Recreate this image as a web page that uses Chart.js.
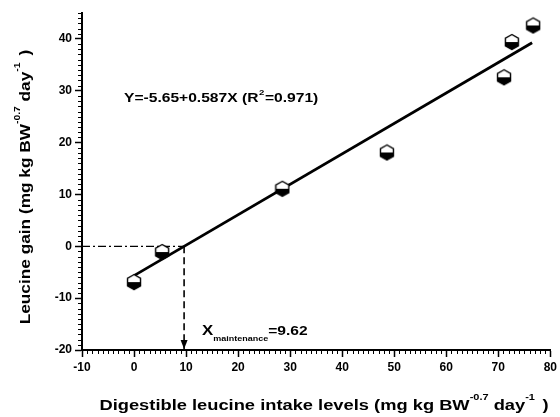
<!DOCTYPE html>
<html>
<head>
<meta charset="utf-8">
<script src="https://cdn.jsdelivr.net/npm/chart.js@4.4.0/dist/chart.umd.min.js"></script>
<style>
html,body{margin:0;padding:0;background:#fff;}
#wrap{width:560px;height:417px;position:relative;}
</style>
</head>
<body>
<div id="wrap"><canvas id="c" width="560" height="417"></canvas></div>
<script>
// ---- data ----
const intakeX = [0, 5.4, 28.5, 48.6, 71.1, 72.6, 76.7];
const gainY = [-6.9, -1.1, 11.1, 18.1, 32.6, 39.4, 42.6];
const fitX = [0, 76.5];
const fitY = [-5.65, 39.26];
const xMaintenance = 9.62;
const xTicks = [-10, 0, 10, 20, 30, 40, 50, 60, 70, 80];
const yTicks = [-20, -10, 0, 10, 20, 30, 40];
const equationText = 'Y=-5.65+0.587X (R';
const xRange = [-10, 80];
const yRange = [-20, 45];

// hexagon marker
function makeMarker() {
  const w = 16, h = 18;
  const cv = document.createElement('canvas');
  cv.width = w; cv.height = h;
  const g = cv.getContext('2d');
  const cx = w / 2, cy = h / 2, r = 7.5;
  const pts = [];
  for (let i = 0; i < 6; i++) {
    const a = Math.PI / 180 * (90 + 60 * i);
    pts.push([cx + r * Math.cos(a), cy - r * Math.sin(a)]);
  }
  const path = () => { g.beginPath(); pts.forEach((p, i) => i ? g.lineTo(p[0], p[1]) : g.moveTo(p[0], p[1])); g.closePath(); };
  path(); g.fillStyle = '#fff'; g.fill();
  g.save(); path(); g.clip(); g.fillStyle = '#000'; g.fillRect(0, cy, w, h); g.restore();
  path(); g.lineWidth = 1.4; g.strokeStyle = '#000'; g.stroke();
  return cv;
}
const marker = makeMarker();

const FONT = '"Liberation Sans", Arial, sans-serif';

const minorTicks = {
  id: 'minorTicks',
  afterDraw(chart) {
    const ctx = chart.ctx, xs = chart.scales.x, ys = chart.scales.y, a = chart.chartArea;
    ctx.save();
    ctx.strokeStyle = '#000'; ctx.lineWidth = 1;
    for (let v = xRange[0]; v <= xRange[1]; v++) {
      if (v % 10 === 0) continue;
      const px = Math.round(xs.getPixelForValue(v)) + 0.5;
      ctx.beginPath(); ctx.moveTo(px, a.bottom); ctx.lineTo(px, a.bottom + 4); ctx.stroke();
    }
    for (let v = yRange[0]; v <= yRange[1]; v++) {
      if (v % 10 === 0) continue;
      const py = Math.round(ys.getPixelForValue(v)) + 0.5;
      ctx.beginPath(); ctx.moveTo(a.left, py); ctx.lineTo(a.left - 4, py); ctx.stroke();
    }
    // arrow head at maintenance
    const ax = xs.getPixelForValue(xMaintenance), ay = ys.getPixelForValue(yRange[0]);
    ctx.fillStyle = '#000';
    ctx.beginPath(); ctx.moveTo(ax, ay - 1); ctx.lineTo(ax - 3.5, ay - 10); ctx.lineTo(ax + 3.5, ay - 10); ctx.closePath(); ctx.fill();

    ctx.fillStyle = '#000';
    ctx.textBaseline = 'middle';

    // rich text: parts drawn left to right, stretched horizontally by sx
    const drawRich = (parts, x0, y0, rot, sx, centered) => {
      ctx.save();
      ctx.translate(x0, y0); ctx.rotate(rot); ctx.scale(sx, 1);
      let total = 0;
      parts.forEach(p => { ctx.font = p.f; total += ctx.measureText(p.t).width + (p.gap || 0); });
      let px = centered ? -total / 2 : 0;
      parts.forEach(p => { ctx.font = p.f; ctx.fillText(p.t, px + (p.pre || 0), p.dy || 0); px += ctx.measureText(p.t).width + (p.gap || 0); });
      ctx.restore();
    };
    const f13 = 'bold 13px ' + FONT;
    const f8 = 'bold 8px ' + FONT;
    drawRich([
      {t: equationText, f: f13},
      {t: '2', f: f8, dy: -5, pre: 0.5, gap: 1},
      {t: '=0.971)', f: f13}
    ], 124, 98, 0, 1.2, false);

    drawRich([
      {t: 'X', f: 'bold 14px ' + FONT},
      {t: 'maintenance', f: 'bold 7.5px ' + FONT, dy: 8},
      {t: '=' + xMaintenance.toFixed(2), f: f13}
    ], 202, 331, 0, 1.2, false);

    // axis titles
    const big = 'bold 15px ' + FONT;
    const sup = 'bold 9px ' + FONT;
    drawRich([
      {t: 'Leucine gain (mg kg BW', f: big},
      {t: '-0.7', f: sup, dy: -8},
      {t: ' day', f: big},
      {t: '-1', f: sup, dy: -8, gap: 2},
      {t: ' )', f: big}
    ], 26, 187, -Math.PI / 2, 1.15, true);
    drawRich([
      {t: 'Digestible leucine intake levels (mg kg BW', f: big},
      {t: '-0.7', f: sup, dy: -8},
      {t: ' day', f: big},
      {t: '-1', f: sup, dy: -8, gap: 2},
      {t: ' )', f: big}
    ], 324, 406, 0, 1.22, true);
    ctx.restore();
  }
};

const tickFont = {family: FONT, size: 12, weight: 'bold'};

new Chart(document.getElementById('c'), {
  type: 'scatter',
  data: {
    datasets: [
      {
        label: 'fit', type: 'line',
        data: fitX.map((x, i) => ({x, y: fitY[i]})),
        borderColor: '#000', borderWidth: 2.8, pointRadius: 0, fill: false, order: 2
      },
      {
        label: 'h', type: 'line',
        data: [{x: xRange[0], y: 0}, {x: xMaintenance, y: 0}],
        borderColor: '#000', borderWidth: 1.3, borderDash: [8, 3, 2, 3], pointRadius: 0, order: 3
      },
      {
        label: 'v', type: 'line',
        data: [{x: xMaintenance, y: 0}, {x: xMaintenance, y: yRange[0]}],
        borderColor: '#000', borderWidth: 1.6, borderDash: [7, 4], pointRadius: 0, order: 3
      },
      {
        label: 'obs',
        data: intakeX.map((x, i) => ({x, y: gainY[i]})),
        pointStyle: marker, pointRadius: 8, order: 1
      }
    ]
  },
  options: {
    responsive: false, animation: false,
    layout: {padding: {top: 13, right: 7, left: 0, bottom: 0}},
    plugins: {legend: {display: false}, tooltip: {enabled: false}},
    scales: {
      x: {
        type: 'linear', min: xRange[0], max: xRange[1],
        afterFit: s => { s.height = 67; },
        afterBuildTicks: s => { s.ticks = xTicks.map(v => ({value: v})); },
        grid: {drawOnChartArea: false, color: '#000', tickLength: 7, tickWidth: 1.5},
        border: {color: '#000', width: 2},
        ticks: {color: '#000', font: tickFont, padding: 3, maxRotation: 0, autoSkip: false}
      },
      y: {
        type: 'linear', min: yRange[0], max: yRange[1],
        afterFit: s => { s.width = 82; },
        afterBuildTicks: s => { s.ticks = yTicks.map(v => ({value: v})); },
        grid: {drawOnChartArea: false, color: '#000', tickLength: 7, tickWidth: 1.5},
        border: {color: '#000', width: 2},
        ticks: {color: '#000', font: tickFont, padding: 3, autoSkip: false}
      }
    }
  },
  plugins: [minorTicks]
});
</script>
</body>
</html>
